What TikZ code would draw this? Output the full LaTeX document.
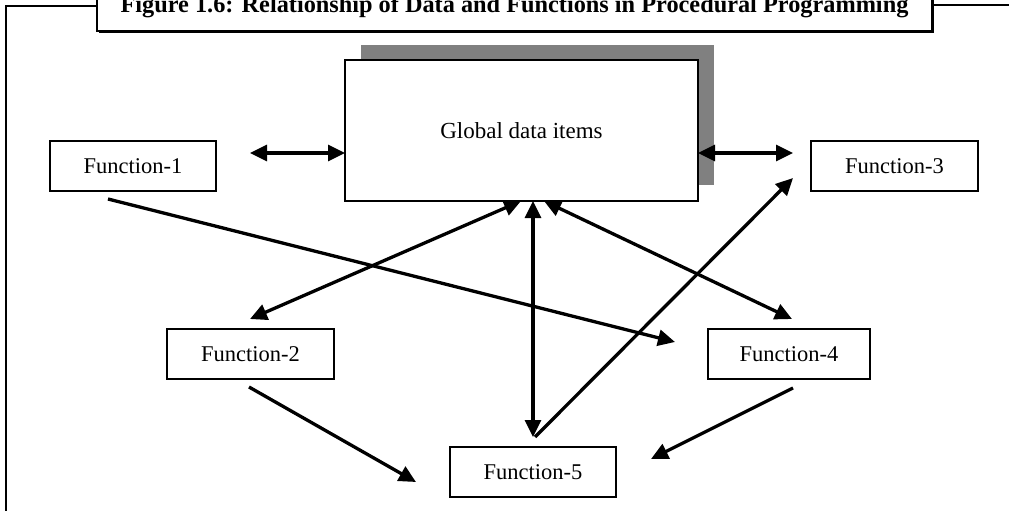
\documentclass[tikz,border=0pt]{standalone}
\usepackage{fontspec}
\setmainfont{Liberation Serif}
\usetikzlibrary{arrows.meta}
\begin{document}
\begin{tikzpicture}[x=1pt,y=-1pt,
  fbox/.style={draw, line width=1.7pt, fill=white, minimum width=166pt, minimum height=50pt, inner sep=0pt, font=\fontsize{22.5}{26}\selectfont},
  gbox/.style={draw, line width=2pt, fill=white, minimum width=353pt, minimum height=141pt, inner sep=0pt, font=\fontsize{23}{27}\selectfont},
  tbox/.style={draw, line width=2pt, fill=white, minimum width=835pt, minimum height=71pt, inner sep=0pt},
  conn/.style={line width=3.3pt, -{Triangle[length=17pt,width=16pt]}},
  dconn/.style={line width=3.3pt, {Triangle[length=17pt,width=16pt]}-{Triangle[length=17pt,width=16pt]}},
  frameline/.style={line width=2.5pt}]
\useasboundingbox (0,0) rectangle (1009,511);
% outer frame
\draw[frameline] (97,6) -- (6,6) -- (6,520);
\draw[frameline] (932,5) -- (1015,5);
% title box with shadow
\fill[black] (98.5,-40) rectangle (934,33);
\node[tbox] (tb) at (514.5,-4.5) {};
\node[anchor=base, inner sep=0pt, font=\fontsize{24.3}{28}\selectfont\bfseries] (tt) at (514.5,13) {Figure 1.6: Relationship of Data and Functions in Procedural Programming};
% global data box with shadow
\fill[gray] (361,45) rectangle (714,185);
\node[gbox] (g) at (521.5,130.5) {Global data items};
% function boxes
\node[fbox] (f1) at (133,166) {Function-1};
\node[fbox, minimum width=167pt] (f3) at (894.5,166) {Function-3};
\node[fbox, minimum width=167pt] (f2) at (250.5,354) {Function-2};
\node[fbox, minimum width=162pt] (f4) at (789,354) {Function-4};
\node[fbox] (f5) at (533,472) {Function-5};
% connector ends
\coordinate (f1r) at (250,153);
\coordinate (gw) at (345,153);
\coordinate (ge) at (698,153);
\coordinate (f3l) at (793,153);
\coordinate (f3ll) at (793,178);
\coordinate (gb2) at (521,201);
\coordinate (gb4) at (544,201);
\coordinate (gb5) at (533,201);
\coordinate (f2t) at (250,319);
\coordinate (f4t) at (792,319);
\coordinate (f5t) at (533,437);
\coordinate (f5s) at (535,437);
\coordinate (f1b) at (108,199);
\coordinate (f4l) at (675,342);
\coordinate (f2b) at (249,387);
\coordinate (f5l) at (416,482);
\coordinate (f4b) at (793,388);
\coordinate (f5r) at (651,459);
% connectors
\draw[dconn] (f1r) -- (gw);
\draw[dconn] (ge) -- (f3l);
\draw[dconn] (gb2) -- (f2t);
\draw[dconn] (gb4) -- (f4t);
\draw[dconn] (gb5) -- (f5t);
\draw[conn] (f1b) -- (f4l);
\draw[conn] (f2b) -- (f5l);
\draw[conn] (f4b) -- (f5r);
\draw[conn] (f5s) -- (f3ll);
\end{tikzpicture}
\end{document}
